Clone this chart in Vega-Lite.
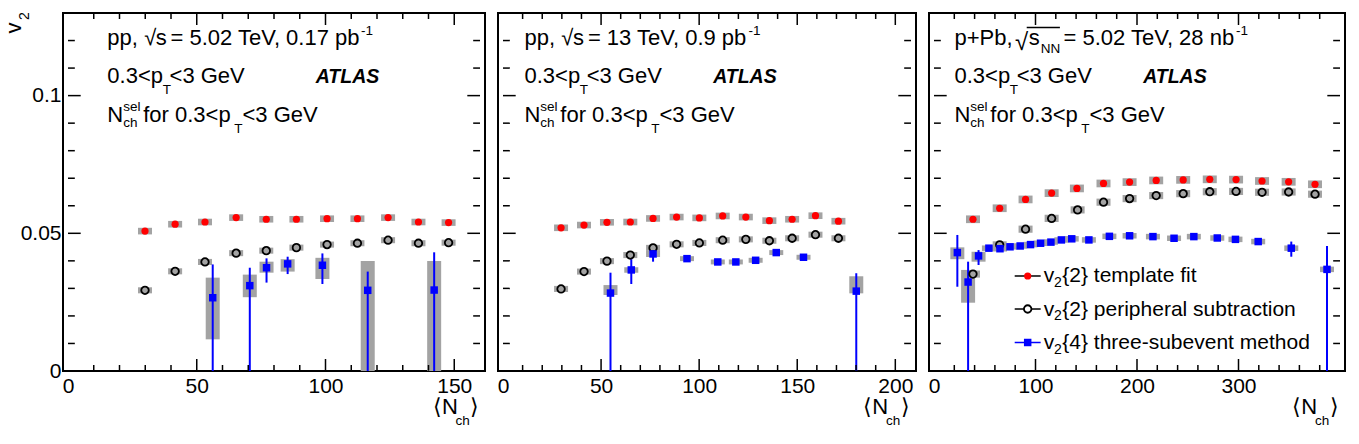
{
  "$schema": "https://vega.github.io/schema/vega-lite/v6.json",
  "autosize": {"type": "none"},
  "padding": {"left": 63, "top": 13, "right": 1296, "bottom": 431},
  "spacing": 13,
  "bounds": "flush",
  "datasets": {
    "pp502": [
      {"s": "tf", "n": 29.9, "v": 0.0508, "lo": 0.0496, "hi": 0.0520},
      {"s": "tf", "n": 41.6, "v": 0.0533, "lo": 0.0521, "hi": 0.0545},
      {"s": "tf", "n": 53.2, "v": 0.0541, "lo": 0.0529, "hi": 0.0553},
      {"s": "tf", "n": 65.3, "v": 0.0557, "lo": 0.0545, "hi": 0.0569},
      {"s": "tf", "n": 77.0, "v": 0.0551, "lo": 0.0539, "hi": 0.0563},
      {"s": "tf", "n": 88.7, "v": 0.0551, "lo": 0.0539, "hi": 0.0563},
      {"s": "tf", "n": 100.6, "v": 0.0553, "lo": 0.0541, "hi": 0.0565},
      {"s": "tf", "n": 112.4, "v": 0.0553, "lo": 0.0541, "hi": 0.0565},
      {"s": "tf", "n": 124.3, "v": 0.0557, "lo": 0.0545, "hi": 0.0569},
      {"s": "tf", "n": 136.1, "v": 0.0541, "lo": 0.0529, "hi": 0.0553},
      {"s": "tf", "n": 147.8, "v": 0.0539, "lo": 0.0527, "hi": 0.0551},
      {"s": "ps", "n": 29.9, "v": 0.0293, "lo": 0.0282, "hi": 0.0304},
      {"s": "ps", "n": 41.6, "v": 0.0362, "lo": 0.0351, "hi": 0.0373},
      {"s": "ps", "n": 53.2, "v": 0.0396, "lo": 0.0385, "hi": 0.0407},
      {"s": "ps", "n": 65.3, "v": 0.0428, "lo": 0.0417, "hi": 0.0439},
      {"s": "ps", "n": 77.0, "v": 0.0437, "lo": 0.0426, "hi": 0.0448},
      {"s": "ps", "n": 88.7, "v": 0.0448, "lo": 0.0437, "hi": 0.0459},
      {"s": "ps", "n": 100.6, "v": 0.0459, "lo": 0.0448, "hi": 0.0470},
      {"s": "ps", "n": 112.4, "v": 0.0464, "lo": 0.0453, "hi": 0.0475},
      {"s": "ps", "n": 124.3, "v": 0.0475, "lo": 0.0464, "hi": 0.0486},
      {"s": "ps", "n": 136.1, "v": 0.0464, "lo": 0.0453, "hi": 0.0475},
      {"s": "ps", "n": 147.8, "v": 0.0466, "lo": 0.0455, "hi": 0.0477},
      {"s": "sub3", "n": 56.2, "v": 0.0266, "slo": -0.02, "shi": 0.0387, "lo": 0.0115, "hi": 0.0339},
      {"s": "sub3", "n": 70.6, "v": 0.0310, "slo": -0.02, "shi": 0.0375, "lo": 0.0268, "hi": 0.0350},
      {"s": "sub3", "n": 77.1, "v": 0.0375, "slo": 0.0321, "shi": 0.0409, "lo": 0.0357, "hi": 0.0397},
      {"s": "sub3", "n": 85.3, "v": 0.0389, "slo": 0.0352, "shi": 0.0415, "lo": 0.0361, "hi": 0.0406},
      {"s": "sub3", "n": 98.8, "v": 0.0384, "slo": 0.0316, "shi": 0.0427, "lo": 0.0334, "hi": 0.0411},
      {"s": "sub3", "n": 116.4, "v": 0.0293, "slo": -0.02, "shi": 0.0361, "lo": -0.01, "hi": 0.0399},
      {"s": "sub3", "n": 142.2, "v": 0.0294, "slo": -0.02, "shi": 0.0431, "lo": -0.01, "hi": 0.0399}
    ],
    "pp13": [
      {"s": "tf", "n": 29.6, "v": 0.0520, "lo": 0.0508, "hi": 0.0532},
      {"s": "tf", "n": 41.3, "v": 0.0530, "lo": 0.0518, "hi": 0.0542},
      {"s": "tf", "n": 53.0, "v": 0.0540, "lo": 0.0528, "hi": 0.0552},
      {"s": "tf", "n": 64.9, "v": 0.0541, "lo": 0.0529, "hi": 0.0553},
      {"s": "tf", "n": 76.5, "v": 0.0554, "lo": 0.0542, "hi": 0.0566},
      {"s": "tf", "n": 88.5, "v": 0.0559, "lo": 0.0547, "hi": 0.0571},
      {"s": "tf", "n": 100.1, "v": 0.0556, "lo": 0.0544, "hi": 0.0568},
      {"s": "tf", "n": 112.0, "v": 0.0563, "lo": 0.0551, "hi": 0.0575},
      {"s": "tf", "n": 123.8, "v": 0.0559, "lo": 0.0547, "hi": 0.0571},
      {"s": "tf", "n": 135.8, "v": 0.0546, "lo": 0.0534, "hi": 0.0558},
      {"s": "tf", "n": 147.4, "v": 0.0551, "lo": 0.0539, "hi": 0.0563},
      {"s": "tf", "n": 159.3, "v": 0.0564, "lo": 0.0552, "hi": 0.0576},
      {"s": "tf", "n": 171.0, "v": 0.0544, "lo": 0.0532, "hi": 0.0556},
      {"s": "ps", "n": 29.6, "v": 0.0298, "lo": 0.0287, "hi": 0.0309},
      {"s": "ps", "n": 41.3, "v": 0.0361, "lo": 0.0350, "hi": 0.0372},
      {"s": "ps", "n": 53.0, "v": 0.0399, "lo": 0.0388, "hi": 0.0410},
      {"s": "ps", "n": 64.9, "v": 0.0421, "lo": 0.0410, "hi": 0.0432},
      {"s": "ps", "n": 76.5, "v": 0.0447, "lo": 0.0436, "hi": 0.0458},
      {"s": "ps", "n": 88.5, "v": 0.0460, "lo": 0.0449, "hi": 0.0471},
      {"s": "ps", "n": 100.1, "v": 0.0465, "lo": 0.0454, "hi": 0.0476},
      {"s": "ps", "n": 112.0, "v": 0.0475, "lo": 0.0464, "hi": 0.0486},
      {"s": "ps", "n": 123.8, "v": 0.0478, "lo": 0.0467, "hi": 0.0489},
      {"s": "ps", "n": 135.8, "v": 0.0473, "lo": 0.0462, "hi": 0.0484},
      {"s": "ps", "n": 147.4, "v": 0.0482, "lo": 0.0471, "hi": 0.0493},
      {"s": "ps", "n": 159.3, "v": 0.0495, "lo": 0.0484, "hi": 0.0506},
      {"s": "ps", "n": 171.0, "v": 0.0482, "lo": 0.0471, "hi": 0.0493},
      {"s": "sub3", "n": 54.8, "v": 0.0283, "slo": -0.02, "shi": 0.0357, "lo": 0.0276, "hi": 0.0312},
      {"s": "sub3", "n": 65.4, "v": 0.0367, "slo": 0.0316, "shi": 0.0406, "lo": 0.0357, "hi": 0.0377},
      {"s": "sub3", "n": 76.5, "v": 0.0425, "slo": 0.0397, "shi": 0.0439, "lo": 0.0414, "hi": 0.0436},
      {"s": "sub3", "n": 93.8, "v": 0.0408, "slo": 0.0402, "shi": 0.0414, "lo": 0.0399, "hi": 0.0417},
      {"s": "sub3", "n": 109.5, "v": 0.0396, "slo": 0.0390, "shi": 0.0402, "lo": 0.0387, "hi": 0.0405},
      {"s": "sub3", "n": 118.7, "v": 0.0396, "slo": 0.0390, "shi": 0.0402, "lo": 0.0387, "hi": 0.0405},
      {"s": "sub3", "n": 128.8, "v": 0.0402, "slo": 0.0396, "shi": 0.0408, "lo": 0.0393, "hi": 0.0411},
      {"s": "sub3", "n": 139.3, "v": 0.0430, "slo": 0.0423, "shi": 0.0437, "lo": 0.0421, "hi": 0.0439},
      {"s": "sub3", "n": 153.2, "v": 0.0413, "slo": 0.0406, "shi": 0.0420, "lo": 0.0404, "hi": 0.0422},
      {"s": "sub3", "n": 180.1, "v": 0.0290, "slo": -0.02, "shi": 0.0355, "lo": 0.0282, "hi": 0.0344}
    ],
    "ppb": [
      {"s": "tf", "n": 38.4, "v": 0.0551, "lo": 0.0537, "hi": 0.0565},
      {"s": "tf", "n": 64.7, "v": 0.0591, "lo": 0.0577, "hi": 0.0605},
      {"s": "tf", "n": 90.2, "v": 0.0623, "lo": 0.0609, "hi": 0.0637},
      {"s": "tf", "n": 115.9, "v": 0.0646, "lo": 0.0632, "hi": 0.0660},
      {"s": "tf", "n": 140.8, "v": 0.0663, "lo": 0.0649, "hi": 0.0677},
      {"s": "tf", "n": 167.0, "v": 0.0681, "lo": 0.0667, "hi": 0.0695},
      {"s": "tf", "n": 192.7, "v": 0.0686, "lo": 0.0672, "hi": 0.0700},
      {"s": "tf", "n": 218.9, "v": 0.0692, "lo": 0.0678, "hi": 0.0706},
      {"s": "tf", "n": 245.5, "v": 0.0694, "lo": 0.0680, "hi": 0.0708},
      {"s": "tf", "n": 271.7, "v": 0.0696, "lo": 0.0682, "hi": 0.0710},
      {"s": "tf", "n": 297.6, "v": 0.0695, "lo": 0.0681, "hi": 0.0709},
      {"s": "tf", "n": 323.2, "v": 0.0690, "lo": 0.0676, "hi": 0.0704},
      {"s": "tf", "n": 349.4, "v": 0.0687, "lo": 0.0673, "hi": 0.0701},
      {"s": "tf", "n": 375.4, "v": 0.0678, "lo": 0.0664, "hi": 0.0692},
      {"s": "ps", "n": 38.4, "v": 0.0352, "lo": 0.0339, "hi": 0.0365},
      {"s": "ps", "n": 64.7, "v": 0.0458, "lo": 0.0445, "hi": 0.0471},
      {"s": "ps", "n": 90.2, "v": 0.0515, "lo": 0.0502, "hi": 0.0528},
      {"s": "ps", "n": 115.9, "v": 0.0554, "lo": 0.0541, "hi": 0.0567},
      {"s": "ps", "n": 141.5, "v": 0.0585, "lo": 0.0572, "hi": 0.0598},
      {"s": "ps", "n": 167.0, "v": 0.0613, "lo": 0.0600, "hi": 0.0626},
      {"s": "ps", "n": 192.7, "v": 0.0626, "lo": 0.0613, "hi": 0.0639},
      {"s": "ps", "n": 218.9, "v": 0.0637, "lo": 0.0624, "hi": 0.0650},
      {"s": "ps", "n": 245.5, "v": 0.0644, "lo": 0.0631, "hi": 0.0657},
      {"s": "ps", "n": 271.7, "v": 0.0651, "lo": 0.0638, "hi": 0.0664},
      {"s": "ps", "n": 297.6, "v": 0.0652, "lo": 0.0639, "hi": 0.0665},
      {"s": "ps", "n": 323.2, "v": 0.0649, "lo": 0.0636, "hi": 0.0662},
      {"s": "ps", "n": 349.4, "v": 0.0650, "lo": 0.0637, "hi": 0.0663},
      {"s": "ps", "n": 375.4, "v": 0.0642, "lo": 0.0629, "hi": 0.0655},
      {"s": "sub3", "n": 23.0, "v": 0.0430, "slo": 0.0306, "shi": 0.0494, "lo": 0.0406, "hi": 0.0449},
      {"s": "sub3", "n": 33.6, "v": 0.0323, "slo": -0.02, "shi": 0.0397, "lo": 0.0248, "hi": 0.0367},
      {"s": "sub3", "n": 43.9, "v": 0.0418, "slo": 0.0385, "shi": 0.0439, "lo": 0.0397, "hi": 0.0433},
      {"s": "sub3", "n": 54.1, "v": 0.0446, "slo": 0.0438, "shi": 0.0454, "lo": 0.0436, "hi": 0.0456},
      {"s": "sub3", "n": 65.0, "v": 0.0444, "slo": 0.0437, "shi": 0.0451, "lo": 0.0434, "hi": 0.0454},
      {"s": "sub3", "n": 74.9, "v": 0.0451, "slo": 0.0445, "shi": 0.0457, "lo": 0.0441, "hi": 0.0461},
      {"s": "sub3", "n": 84.9, "v": 0.0454, "slo": 0.0448, "shi": 0.0460, "lo": 0.0444, "hi": 0.0464},
      {"s": "sub3", "n": 95.1, "v": 0.0459, "slo": 0.0453, "shi": 0.0465, "lo": 0.0449, "hi": 0.0469},
      {"s": "sub3", "n": 105.0, "v": 0.0464, "slo": 0.0458, "shi": 0.0470, "lo": 0.0454, "hi": 0.0474},
      {"s": "sub3", "n": 115.2, "v": 0.0468, "slo": 0.0462, "shi": 0.0474, "lo": 0.0458, "hi": 0.0478},
      {"s": "sub3", "n": 125.5, "v": 0.0476, "slo": 0.0470, "shi": 0.0482, "lo": 0.0466, "hi": 0.0486},
      {"s": "sub3", "n": 135.7, "v": 0.0480, "slo": 0.0474, "shi": 0.0486, "lo": 0.0470, "hi": 0.0490},
      {"s": "sub3", "n": 152.6, "v": 0.0476, "slo": 0.0470, "shi": 0.0482, "lo": 0.0466, "hi": 0.0486},
      {"s": "sub3", "n": 172.8, "v": 0.0489, "slo": 0.0483, "shi": 0.0495, "lo": 0.0479, "hi": 0.0499},
      {"s": "sub3", "n": 192.7, "v": 0.0491, "slo": 0.0485, "shi": 0.0497, "lo": 0.0481, "hi": 0.0501},
      {"s": "sub3", "n": 215.7, "v": 0.0488, "slo": 0.0482, "shi": 0.0494, "lo": 0.0478, "hi": 0.0498},
      {"s": "sub3", "n": 236.5, "v": 0.0482, "slo": 0.0476, "shi": 0.0488, "lo": 0.0472, "hi": 0.0492},
      {"s": "sub3", "n": 256.0, "v": 0.0488, "slo": 0.0482, "shi": 0.0494, "lo": 0.0478, "hi": 0.0498},
      {"s": "sub3", "n": 279.1, "v": 0.0483, "slo": 0.0477, "shi": 0.0489, "lo": 0.0473, "hi": 0.0493},
      {"s": "sub3", "n": 297.0, "v": 0.0478, "slo": 0.0472, "shi": 0.0484, "lo": 0.0468, "hi": 0.0488},
      {"s": "sub3", "n": 319.4, "v": 0.0470, "slo": 0.0464, "shi": 0.0476, "lo": 0.0460, "hi": 0.0480},
      {"s": "sub3", "n": 352.0, "v": 0.0446, "slo": 0.0415, "shi": 0.0470, "lo": 0.0436, "hi": 0.0456},
      {"s": "sub3", "n": 387.2, "v": 0.0369, "slo": -0.02, "shi": 0.0454, "lo": 0.0359, "hi": 0.0379}
    ],
    "yMajor": [{"t": 0.05}, {"t": 0.1}],
    "yMinor": [{"t": 0.01}, {"t": 0.02}, {"t": 0.03}, {"t": 0.04}, {"t": 0.06}, {"t": 0.07}, {"t": 0.08}, {"t": 0.09}, {"t": 0.11}, {"t": 0.12}],
    "x1Major": [{"t": 50}, {"t": 100}, {"t": 150}],
    "x1Minor": [{"t": 10}, {"t": 20}, {"t": 30}, {"t": 40}, {"t": 60}, {"t": 70}, {"t": 80}, {"t": 90}, {"t": 110}, {"t": 120}, {"t": 130}, {"t": 140}],
    "x2Major": [{"t": 50}, {"t": 100}, {"t": 150}, {"t": 200}],
    "x2Minor": [{"t": 10}, {"t": 20}, {"t": 30}, {"t": 40}, {"t": 60}, {"t": 70}, {"t": 80}, {"t": 90}, {"t": 110}, {"t": 120}, {"t": 130}, {"t": 140}, {"t": 160}, {"t": 170}, {"t": 180}, {"t": 190}],
    "x3Major": [{"t": 100}, {"t": 200}, {"t": 300}],
    "x3Minor": [{"t": 20}, {"t": 40}, {"t": 60}, {"t": 80}, {"t": 120}, {"t": 140}, {"t": 160}, {"t": 180}, {"t": 220}, {"t": 240}, {"t": 260}, {"t": 280}, {"t": 320}, {"t": 340}, {"t": 360}, {"t": 380}]
  },
  "hconcat": [
    {
      "width": 422, "height": 358,
      "data": {"name": "pp502"},
      "resolve": {"axis": {"x": "independent", "y": "independent"}},
      "layer": [
        {"data": {"name": "yMajor"}, "mark": {"type": "rule", "strokeWidth": 1.5}, "encoding": {"y": {"field": "t", "type": "quantitative", "scale": {"domain": [0, 0.13], "nice": false, "zero": false}, "axis": null}, "x": {"datum": 0, "type": "quantitative", "scale": {"domain": [0, 160], "nice": false, "zero": false}, "axis": null}, "x2": {"datum": 4.93}}},
        {"data": {"name": "yMajor"}, "mark": {"type": "rule", "strokeWidth": 1.5}, "encoding": {"y": {"field": "t", "type": "quantitative", "scale": {"domain": [0, 0.13], "nice": false, "zero": false}, "axis": null}, "x": {"datum": 160, "type": "quantitative", "scale": {"domain": [0, 160], "nice": false, "zero": false}, "axis": null}, "x2": {"datum": 155.07}}},
        {"data": {"name": "yMinor"}, "mark": {"type": "rule", "strokeWidth": 1.5}, "encoding": {"y": {"field": "t", "type": "quantitative", "scale": {"domain": [0, 0.13], "nice": false, "zero": false}, "axis": null}, "x": {"datum": 0, "type": "quantitative", "scale": {"domain": [0, 160], "nice": false, "zero": false}, "axis": null}, "x2": {"datum": 2.65}}},
        {"data": {"name": "yMinor"}, "mark": {"type": "rule", "strokeWidth": 1.5}, "encoding": {"y": {"field": "t", "type": "quantitative", "scale": {"domain": [0, 0.13], "nice": false, "zero": false}, "axis": null}, "x": {"datum": 160, "type": "quantitative", "scale": {"domain": [0, 160], "nice": false, "zero": false}, "axis": null}, "x2": {"datum": 157.35}}},
        {"mark": {"type": "bar", "width": 14, "color": "#a3a3a3", "clip": true},
         "encoding": {
           "x": {"field": "n", "type": "quantitative", "scale": {"domain": [0, 160], "nice": false, "zero": false}, "axis": {"orient": "bottom", "values": [0, 50, 100, 150], "ticks": false, "format": "d", "labelPadding": 4, "title": null}},
           "y": {"field": "lo", "type": "quantitative", "scale": {"domain": [0, 0.13], "nice": false, "zero": false}, "axis": {"orient": "left", "values": [0, 0.05, 0.1], "ticks": false, "format": "~g", "labelPadding": 2, "title": null}},
           "y2": {"field": "hi"}}},
        {"transform": [{"filter": "datum.s === 'sub3'"}],
         "mark": {"type": "rule", "color": "#0000ff", "strokeWidth": 2, "clip": true},
         "encoding": {
           "x": {"field": "n", "type": "quantitative", "scale": {"domain": [0, 160], "nice": false, "zero": false}, "axis": null},
           "y": {"field": "slo", "type": "quantitative", "scale": {"domain": [0, 0.13], "nice": false, "zero": false}, "axis": null},
           "y2": {"field": "shi"}}},
        {"transform": [{"filter": "datum.s === 'tf'"}],
         "mark": {"type": "point", "shape": "circle", "filled": true, "color": "#ff0000", "size": 52, "opacity": 1},
         "encoding": {"x": {"field": "n", "type": "quantitative", "scale": {"domain": [0, 160], "nice": false, "zero": false}, "axis": null}, "y": {"field": "v", "type": "quantitative", "scale": {"domain": [0, 0.13], "nice": false, "zero": false}, "axis": null}}},
        {"transform": [{"filter": "datum.s === 'ps'"}],
         "mark": {"type": "point", "shape": "circle", "filled": false, "color": "black", "strokeWidth": 1.8, "size": 56, "opacity": 1},
         "encoding": {"x": {"field": "n", "type": "quantitative", "scale": {"domain": [0, 160], "nice": false, "zero": false}, "axis": null}, "y": {"field": "v", "type": "quantitative", "scale": {"domain": [0, 0.13], "nice": false, "zero": false}, "axis": null}}},
        {"transform": [{"filter": "datum.s === 'sub3'"}],
         "mark": {"type": "point", "shape": "square", "filled": true, "color": "#0000ff", "size": 56, "opacity": 1},
         "encoding": {"x": {"field": "n", "type": "quantitative", "scale": {"domain": [0, 160], "nice": false, "zero": false}, "axis": null}, "y": {"field": "v", "type": "quantitative", "scale": {"domain": [0, 0.13], "nice": false, "zero": false}, "axis": null}}},
        {"data": {"name": "x1Major"}, "mark": {"type": "rule", "strokeWidth": 1.5}, "encoding": {"x": {"field": "t", "type": "quantitative", "scale": {"domain": [0, 160], "nice": false, "zero": false}, "axis": null}, "y": {"datum": 0.0001, "type": "quantitative", "scale": {"domain": [0, 0.13], "nice": false, "zero": false}, "axis": null}, "y2": {"datum": 0.00436}}},
        {"data": {"name": "x1Major"}, "mark": {"type": "rule", "strokeWidth": 1.5}, "encoding": {"x": {"field": "t", "type": "quantitative", "scale": {"domain": [0, 160], "nice": false, "zero": false}, "axis": null}, "y": {"datum": 0.1299, "type": "quantitative", "scale": {"domain": [0, 0.13], "nice": false, "zero": false}, "axis": null}, "y2": {"datum": 0.12564}}},
        {"data": {"name": "x1Minor"}, "mark": {"type": "rule", "strokeWidth": 1.5}, "encoding": {"x": {"field": "t", "type": "quantitative", "scale": {"domain": [0, 160], "nice": false, "zero": false}, "axis": null}, "y": {"datum": 0.0001, "type": "quantitative", "scale": {"domain": [0, 0.13], "nice": false, "zero": false}, "axis": null}, "y2": {"datum": 0.00218}}},
        {"data": {"name": "x1Minor"}, "mark": {"type": "rule", "strokeWidth": 1.5}, "encoding": {"x": {"field": "t", "type": "quantitative", "scale": {"domain": [0, 160], "nice": false, "zero": false}, "axis": null}, "y": {"datum": 0.1299, "type": "quantitative", "scale": {"domain": [0, 0.13], "nice": false, "zero": false}, "axis": null}, "y2": {"datum": 0.12782}}},
        {"data": {"values": [{}]}, "mark": {"type": "text", "text": "pp,"}, "encoding": {"x": {"datum": 15.28, "type": "quantitative", "scale": {"domain": [0, 160], "nice": false, "zero": false}, "axis": null}, "y": {"datum": 0.1182, "type": "quantitative", "scale": {"domain": [0, 0.13], "nice": false, "zero": false}, "axis": null}}},
        {"data": {"values": [{}]}, "mark": {"type": "text", "text": "√"}, "encoding": {"x": {"datum": 29.57, "type": "quantitative", "scale": {"domain": [0, 160], "nice": false, "zero": false}, "axis": null}, "y": {"datum": 0.1182, "type": "quantitative", "scale": {"domain": [0, 0.13], "nice": false, "zero": false}, "axis": null}}},
        {"data": {"values": [{}]}, "mark": {"type": "text", "text": "s"}, "encoding": {"x": {"datum": 34.12, "type": "quantitative", "scale": {"domain": [0, 160], "nice": false, "zero": false}, "axis": null}, "y": {"datum": 0.1182, "type": "quantitative", "scale": {"domain": [0, 0.13], "nice": false, "zero": false}, "axis": null}}},
        {"data": {"values": [{}]}, "mark": {"type": "text", "text": "= 5.02 TeV, 0.17 pb"}, "encoding": {"x": {"datum": 39.81, "type": "quantitative", "scale": {"domain": [0, 160], "nice": false, "zero": false}, "axis": null}, "y": {"datum": 0.1182, "type": "quantitative", "scale": {"domain": [0, 0.13], "nice": false, "zero": false}, "axis": null}}},
        {"data": {"values": [{}]}, "mark": {"type": "text", "text": "-1", "fontSize": 13.5}, "encoding": {"x": {"datum": 113.74, "type": "quantitative", "scale": {"domain": [0, 160], "nice": false, "zero": false}, "axis": null}, "y": {"datum": 0.1220, "type": "quantitative", "scale": {"domain": [0, 0.13], "nice": false, "zero": false}, "axis": null}}},
        {"data": {"values": [{}]}, "mark": {"type": "text", "text": "0.3<p"}, "encoding": {"x": {"datum": 15.28, "type": "quantitative", "scale": {"domain": [0, 160], "nice": false, "zero": false}, "axis": null}, "y": {"datum": 0.1046, "type": "quantitative", "scale": {"domain": [0, 0.13], "nice": false, "zero": false}, "axis": null}}},
        {"data": {"values": [{}]}, "mark": {"type": "text", "text": "T", "fontSize": 13.5}, "encoding": {"x": {"datum": 36.78, "type": "quantitative", "scale": {"domain": [0, 160], "nice": false, "zero": false}, "axis": null}, "y": {"datum": 0.1006, "type": "quantitative", "scale": {"domain": [0, 0.13], "nice": false, "zero": false}, "axis": null}}},
        {"data": {"values": [{}]}, "mark": {"type": "text", "text": "<3 GeV"}, "encoding": {"x": {"datum": 39.43, "type": "quantitative", "scale": {"domain": [0, 160], "nice": false, "zero": false}, "axis": null}, "y": {"datum": 0.1046, "type": "quantitative", "scale": {"domain": [0, 0.13], "nice": false, "zero": false}, "axis": null}}},
        {"data": {"values": [{}]}, "mark": {"type": "text", "text": "ATLAS", "fontSize": 19.5, "fontWeight": "bold", "fontStyle": "italic"}, "encoding": {"x": {"datum": 96.19, "type": "quantitative", "scale": {"domain": [0, 160], "nice": false, "zero": false}, "axis": null}, "y": {"datum": 0.1046, "type": "quantitative", "scale": {"domain": [0, 0.13], "nice": false, "zero": false}, "axis": null}}},
        {"data": {"values": [{}]}, "mark": {"type": "text", "text": "N"}, "encoding": {"x": {"datum": 15.28, "type": "quantitative", "scale": {"domain": [0, 160], "nice": false, "zero": false}, "axis": null}, "y": {"datum": 0.0906, "type": "quantitative", "scale": {"domain": [0, 0.13], "nice": false, "zero": false}, "axis": null}}},
        {"data": {"values": [{}]}, "mark": {"type": "text", "text": "sel", "fontSize": 13.5}, "encoding": {"x": {"datum": 21.42, "type": "quantitative", "scale": {"domain": [0, 160], "nice": false, "zero": false}, "axis": null}, "y": {"datum": 0.0945, "type": "quantitative", "scale": {"domain": [0, 0.13], "nice": false, "zero": false}, "axis": null}}},
        {"data": {"values": [{}]}, "mark": {"type": "text", "text": "ch", "fontSize": 13.5}, "encoding": {"x": {"datum": 21.42, "type": "quantitative", "scale": {"domain": [0, 160], "nice": false, "zero": false}, "axis": null}, "y": {"datum": 0.0887, "type": "quantitative", "scale": {"domain": [0, 0.13], "nice": false, "zero": false}, "axis": null}}},
        {"data": {"values": [{}]}, "mark": {"type": "text", "text": "for 0.3<p"}, "encoding": {"x": {"datum": 29.19, "type": "quantitative", "scale": {"domain": [0, 160], "nice": false, "zero": false}, "axis": null}, "y": {"datum": 0.0906, "type": "quantitative", "scale": {"domain": [0, 0.13], "nice": false, "zero": false}, "axis": null}}},
        {"data": {"values": [{}]}, "mark": {"type": "text", "text": "T", "fontSize": 13.5}, "encoding": {"x": {"datum": 64.57, "type": "quantitative", "scale": {"domain": [0, 160], "nice": false, "zero": false}, "axis": null}, "y": {"datum": 0.0866, "type": "quantitative", "scale": {"domain": [0, 0.13], "nice": false, "zero": false}, "axis": null}}},
        {"data": {"values": [{}]}, "mark": {"type": "text", "text": "<3 GeV"}, "encoding": {"x": {"datum": 67.75, "type": "quantitative", "scale": {"domain": [0, 160], "nice": false, "zero": false}, "axis": null}, "y": {"datum": 0.0906, "type": "quantitative", "scale": {"domain": [0, 0.13], "nice": false, "zero": false}, "axis": null}}},
        {"data": {"values": [{}]}, "mark": {"type": "text", "text": "⟨N"}, "encoding": {"x": {"datum": 141.7, "type": "quantitative", "scale": {"domain": [0, 160], "nice": false, "zero": false}, "axis": null}, "y": {"datum": -0.01561, "type": "quantitative", "scale": {"domain": [0, 0.13], "nice": false, "zero": false}, "axis": null}}},
        {"data": {"values": [{}]}, "mark": {"type": "text", "text": "ch", "fontSize": 13.5}, "encoding": {"x": {"datum": 150.5, "type": "quantitative", "scale": {"domain": [0, 160], "nice": false, "zero": false}, "axis": null}, "y": {"datum": -0.01961, "type": "quantitative", "scale": {"domain": [0, 0.13], "nice": false, "zero": false}, "axis": null}}},
        {"data": {"values": [{}]}, "mark": {"type": "text", "text": "⟩"}, "encoding": {"x": {"datum": 156.2, "type": "quantitative", "scale": {"domain": [0, 160], "nice": false, "zero": false}, "axis": null}, "y": {"datum": -0.01561, "type": "quantitative", "scale": {"domain": [0, 0.13], "nice": false, "zero": false}, "axis": null}}},
        {"data": {"values": [{}]}, "mark": {"type": "text", "text": "v", "angle": 270}, "encoding": {"x": {"datum": -18.2, "type": "quantitative", "scale": {"domain": [0, 160], "nice": false, "zero": false}, "axis": null}, "y": {"datum": 0.1226, "type": "quantitative", "scale": {"domain": [0, 0.13], "nice": false, "zero": false}, "axis": null}}},
        {"data": {"values": [{}]}, "mark": {"type": "text", "text": "2", "angle": 270, "fontSize": 14}, "encoding": {"x": {"datum": -15.05, "type": "quantitative", "scale": {"domain": [0, 160], "nice": false, "zero": false}, "axis": null}, "y": {"datum": 0.1275, "type": "quantitative", "scale": {"domain": [0, 0.13], "nice": false, "zero": false}, "axis": null}}}
      ]
    },
    {
      "width": 418, "height": 358,
      "data": {"name": "pp13"},
      "resolve": {"axis": {"x": "independent", "y": "independent"}},
      "layer": [
        {"data": {"name": "yMajor"}, "mark": {"type": "rule", "strokeWidth": 1.5}, "encoding": {"y": {"field": "t", "type": "quantitative", "scale": {"domain": [0, 0.13], "nice": false, "zero": false}, "axis": null}, "x": {"datum": 0, "type": "quantitative", "scale": {"domain": [0, 208], "nice": false, "zero": false}, "axis": null}, "x2": {"datum": 6.47}}},
        {"data": {"name": "yMajor"}, "mark": {"type": "rule", "strokeWidth": 1.5}, "encoding": {"y": {"field": "t", "type": "quantitative", "scale": {"domain": [0, 0.13], "nice": false, "zero": false}, "axis": null}, "x": {"datum": 208, "type": "quantitative", "scale": {"domain": [0, 208], "nice": false, "zero": false}, "axis": null}, "x2": {"datum": 201.53}}},
        {"data": {"name": "yMinor"}, "mark": {"type": "rule", "strokeWidth": 1.5}, "encoding": {"y": {"field": "t", "type": "quantitative", "scale": {"domain": [0, 0.13], "nice": false, "zero": false}, "axis": null}, "x": {"datum": 0, "type": "quantitative", "scale": {"domain": [0, 208], "nice": false, "zero": false}, "axis": null}, "x2": {"datum": 3.48}}},
        {"data": {"name": "yMinor"}, "mark": {"type": "rule", "strokeWidth": 1.5}, "encoding": {"y": {"field": "t", "type": "quantitative", "scale": {"domain": [0, 0.13], "nice": false, "zero": false}, "axis": null}, "x": {"datum": 208, "type": "quantitative", "scale": {"domain": [0, 208], "nice": false, "zero": false}, "axis": null}, "x2": {"datum": 204.52}}},
        {"mark": {"type": "bar", "width": 14, "color": "#a3a3a3", "clip": true},
         "encoding": {
           "x": {"field": "n", "type": "quantitative", "scale": {"domain": [0, 208], "nice": false, "zero": false}, "axis": {"orient": "bottom", "values": [0, 50, 100, 150, 200], "ticks": false, "format": "d", "labelPadding": 4, "title": null}},
           "y": {"field": "lo", "type": "quantitative", "scale": {"domain": [0, 0.13], "nice": false, "zero": false}, "axis": null},
           "y2": {"field": "hi"}}},
        {"transform": [{"filter": "datum.s === 'sub3'"}],
         "mark": {"type": "rule", "color": "#0000ff", "strokeWidth": 2, "clip": true},
         "encoding": {"x": {"field": "n", "type": "quantitative", "scale": {"domain": [0, 208], "nice": false, "zero": false}, "axis": null}, "y": {"field": "slo", "type": "quantitative", "scale": {"domain": [0, 0.13], "nice": false, "zero": false}, "axis": null}, "y2": {"field": "shi"}}},
        {"transform": [{"filter": "datum.s === 'tf'"}],
         "mark": {"type": "point", "shape": "circle", "filled": true, "color": "#ff0000", "size": 52, "opacity": 1},
         "encoding": {"x": {"field": "n", "type": "quantitative", "scale": {"domain": [0, 208], "nice": false, "zero": false}, "axis": null}, "y": {"field": "v", "type": "quantitative", "scale": {"domain": [0, 0.13], "nice": false, "zero": false}, "axis": null}}},
        {"transform": [{"filter": "datum.s === 'ps'"}],
         "mark": {"type": "point", "shape": "circle", "filled": false, "color": "black", "strokeWidth": 1.8, "size": 56, "opacity": 1},
         "encoding": {"x": {"field": "n", "type": "quantitative", "scale": {"domain": [0, 208], "nice": false, "zero": false}, "axis": null}, "y": {"field": "v", "type": "quantitative", "scale": {"domain": [0, 0.13], "nice": false, "zero": false}, "axis": null}}},
        {"transform": [{"filter": "datum.s === 'sub3'"}],
         "mark": {"type": "point", "shape": "square", "filled": true, "color": "#0000ff", "size": 56, "opacity": 1},
         "encoding": {"x": {"field": "n", "type": "quantitative", "scale": {"domain": [0, 208], "nice": false, "zero": false}, "axis": null}, "y": {"field": "v", "type": "quantitative", "scale": {"domain": [0, 0.13], "nice": false, "zero": false}, "axis": null}}},
        {"data": {"name": "x2Major"}, "mark": {"type": "rule", "strokeWidth": 1.5}, "encoding": {"x": {"field": "t", "type": "quantitative", "scale": {"domain": [0, 208], "nice": false, "zero": false}, "axis": null}, "y": {"datum": 0.0001, "type": "quantitative", "scale": {"domain": [0, 0.13], "nice": false, "zero": false}, "axis": null}, "y2": {"datum": 0.00436}}},
        {"data": {"name": "x2Major"}, "mark": {"type": "rule", "strokeWidth": 1.5}, "encoding": {"x": {"field": "t", "type": "quantitative", "scale": {"domain": [0, 208], "nice": false, "zero": false}, "axis": null}, "y": {"datum": 0.1299, "type": "quantitative", "scale": {"domain": [0, 0.13], "nice": false, "zero": false}, "axis": null}, "y2": {"datum": 0.12564}}},
        {"data": {"name": "x2Minor"}, "mark": {"type": "rule", "strokeWidth": 1.5}, "encoding": {"x": {"field": "t", "type": "quantitative", "scale": {"domain": [0, 208], "nice": false, "zero": false}, "axis": null}, "y": {"datum": 0.0001, "type": "quantitative", "scale": {"domain": [0, 0.13], "nice": false, "zero": false}, "axis": null}, "y2": {"datum": 0.00218}}},
        {"data": {"name": "x2Minor"}, "mark": {"type": "rule", "strokeWidth": 1.5}, "encoding": {"x": {"field": "t", "type": "quantitative", "scale": {"domain": [0, 208], "nice": false, "zero": false}, "axis": null}, "y": {"datum": 0.1299, "type": "quantitative", "scale": {"domain": [0, 0.13], "nice": false, "zero": false}, "axis": null}, "y2": {"datum": 0.12782}}},
        {"data": {"values": [{}]}, "mark": {"type": "text", "text": "pp,"}, "encoding": {"x": {"datum": 10.95, "type": "quantitative", "scale": {"domain": [0, 208], "nice": false, "zero": false}, "axis": null}, "y": {"datum": 0.1182, "type": "quantitative", "scale": {"domain": [0, 0.13], "nice": false, "zero": false}, "axis": null}}},
        {"data": {"values": [{}]}, "mark": {"type": "text", "text": "√"}, "encoding": {"x": {"datum": 29.71, "type": "quantitative", "scale": {"domain": [0, 208], "nice": false, "zero": false}, "axis": null}, "y": {"datum": 0.1182, "type": "quantitative", "scale": {"domain": [0, 0.13], "nice": false, "zero": false}, "axis": null}}},
        {"data": {"values": [{}]}, "mark": {"type": "text", "text": "s"}, "encoding": {"x": {"datum": 35.68, "type": "quantitative", "scale": {"domain": [0, 208], "nice": false, "zero": false}, "axis": null}, "y": {"datum": 0.1182, "type": "quantitative", "scale": {"domain": [0, 0.13], "nice": false, "zero": false}, "axis": null}}},
        {"data": {"values": [{}]}, "mark": {"type": "text", "text": "= 13 TeV, 0.9 pb"}, "encoding": {"x": {"datum": 43.29, "type": "quantitative", "scale": {"domain": [0, 208], "nice": false, "zero": false}, "axis": null}, "y": {"datum": 0.1182, "type": "quantitative", "scale": {"domain": [0, 0.13], "nice": false, "zero": false}, "axis": null}}},
        {"data": {"values": [{}]}, "mark": {"type": "text", "text": "-1", "fontSize": 13.5}, "encoding": {"x": {"datum": 125.15, "type": "quantitative", "scale": {"domain": [0, 208], "nice": false, "zero": false}, "axis": null}, "y": {"datum": 0.1220, "type": "quantitative", "scale": {"domain": [0, 0.13], "nice": false, "zero": false}, "axis": null}}},
        {"data": {"values": [{}]}, "mark": {"type": "text", "text": "0.3<p"}, "encoding": {"x": {"datum": 10.95, "type": "quantitative", "scale": {"domain": [0, 208], "nice": false, "zero": false}, "axis": null}, "y": {"datum": 0.1046, "type": "quantitative", "scale": {"domain": [0, 0.13], "nice": false, "zero": false}, "axis": null}}},
        {"data": {"values": [{}]}, "mark": {"type": "text", "text": "T", "fontSize": 13.5}, "encoding": {"x": {"datum": 39.16, "type": "quantitative", "scale": {"domain": [0, 208], "nice": false, "zero": false}, "axis": null}, "y": {"datum": 0.1006, "type": "quantitative", "scale": {"domain": [0, 0.13], "nice": false, "zero": false}, "axis": null}}},
        {"data": {"values": [{}]}, "mark": {"type": "text", "text": "<3 GeV"}, "encoding": {"x": {"datum": 42.64, "type": "quantitative", "scale": {"domain": [0, 208], "nice": false, "zero": false}, "axis": null}, "y": {"datum": 0.1046, "type": "quantitative", "scale": {"domain": [0, 0.13], "nice": false, "zero": false}, "axis": null}}},
        {"data": {"values": [{}]}, "mark": {"type": "text", "text": "ATLAS", "fontSize": 19.5, "fontWeight": "bold", "fontStyle": "italic"}, "encoding": {"x": {"datum": 107.13, "type": "quantitative", "scale": {"domain": [0, 208], "nice": false, "zero": false}, "axis": null}, "y": {"datum": 0.1046, "type": "quantitative", "scale": {"domain": [0, 0.13], "nice": false, "zero": false}, "axis": null}}},
        {"data": {"values": [{}]}, "mark": {"type": "text", "text": "N"}, "encoding": {"x": {"datum": 10.95, "type": "quantitative", "scale": {"domain": [0, 208], "nice": false, "zero": false}, "axis": null}, "y": {"datum": 0.0906, "type": "quantitative", "scale": {"domain": [0, 0.13], "nice": false, "zero": false}, "axis": null}}},
        {"data": {"values": [{}]}, "mark": {"type": "text", "text": "sel", "fontSize": 13.5}, "encoding": {"x": {"datum": 19.01, "type": "quantitative", "scale": {"domain": [0, 208], "nice": false, "zero": false}, "axis": null}, "y": {"datum": 0.0945, "type": "quantitative", "scale": {"domain": [0, 0.13], "nice": false, "zero": false}, "axis": null}}},
        {"data": {"values": [{}]}, "mark": {"type": "text", "text": "ch", "fontSize": 13.5}, "encoding": {"x": {"datum": 19.01, "type": "quantitative", "scale": {"domain": [0, 208], "nice": false, "zero": false}, "axis": null}, "y": {"datum": 0.0887, "type": "quantitative", "scale": {"domain": [0, 0.13], "nice": false, "zero": false}, "axis": null}}},
        {"data": {"values": [{}]}, "mark": {"type": "text", "text": "for 0.3<p"}, "encoding": {"x": {"datum": 29.21, "type": "quantitative", "scale": {"domain": [0, 208], "nice": false, "zero": false}, "axis": null}, "y": {"datum": 0.0906, "type": "quantitative", "scale": {"domain": [0, 0.13], "nice": false, "zero": false}, "axis": null}}},
        {"data": {"values": [{}]}, "mark": {"type": "text", "text": "T", "fontSize": 13.5}, "encoding": {"x": {"datum": 75.64, "type": "quantitative", "scale": {"domain": [0, 208], "nice": false, "zero": false}, "axis": null}, "y": {"datum": 0.0866, "type": "quantitative", "scale": {"domain": [0, 0.13], "nice": false, "zero": false}, "axis": null}}},
        {"data": {"values": [{}]}, "mark": {"type": "text", "text": "<3 GeV"}, "encoding": {"x": {"datum": 79.77, "type": "quantitative", "scale": {"domain": [0, 208], "nice": false, "zero": false}, "axis": null}, "y": {"datum": 0.0906, "type": "quantitative", "scale": {"domain": [0, 0.13], "nice": false, "zero": false}, "axis": null}}},
        {"data": {"values": [{}]}, "mark": {"type": "text", "text": "⟨N"}, "encoding": {"x": {"datum": 183.6, "type": "quantitative", "scale": {"domain": [0, 208], "nice": false, "zero": false}, "axis": null}, "y": {"datum": -0.01561, "type": "quantitative", "scale": {"domain": [0, 0.13], "nice": false, "zero": false}, "axis": null}}},
        {"data": {"values": [{}]}, "mark": {"type": "text", "text": "ch", "fontSize": 13.5}, "encoding": {"x": {"datum": 195.2, "type": "quantitative", "scale": {"domain": [0, 208], "nice": false, "zero": false}, "axis": null}, "y": {"datum": -0.01961, "type": "quantitative", "scale": {"domain": [0, 0.13], "nice": false, "zero": false}, "axis": null}}},
        {"data": {"values": [{}]}, "mark": {"type": "text", "text": "⟩"}, "encoding": {"x": {"datum": 202.7, "type": "quantitative", "scale": {"domain": [0, 208], "nice": false, "zero": false}, "axis": null}, "y": {"datum": -0.01561, "type": "quantitative", "scale": {"domain": [0, 0.13], "nice": false, "zero": false}, "axis": null}}}
      ]
    },
    {
      "width": 416, "height": 358,
      "data": {"name": "ppb"},
      "resolve": {"axis": {"x": "independent", "y": "independent"}},
      "layer": [
        {"data": {"name": "yMajor"}, "mark": {"type": "rule", "strokeWidth": 1.5}, "encoding": {"y": {"field": "t", "type": "quantitative", "scale": {"domain": [0, 0.13], "nice": false, "zero": false}, "axis": null}, "x": {"datum": 0, "type": "quantitative", "scale": {"domain": [0, 400], "nice": false, "zero": false}, "axis": null}, "x2": {"datum": 12.5}}},
        {"data": {"name": "yMajor"}, "mark": {"type": "rule", "strokeWidth": 1.5}, "encoding": {"y": {"field": "t", "type": "quantitative", "scale": {"domain": [0, 0.13], "nice": false, "zero": false}, "axis": null}, "x": {"datum": 400, "type": "quantitative", "scale": {"domain": [0, 400], "nice": false, "zero": false}, "axis": null}, "x2": {"datum": 387.5}}},
        {"data": {"name": "yMinor"}, "mark": {"type": "rule", "strokeWidth": 1.5}, "encoding": {"y": {"field": "t", "type": "quantitative", "scale": {"domain": [0, 0.13], "nice": false, "zero": false}, "axis": null}, "x": {"datum": 0, "type": "quantitative", "scale": {"domain": [0, 400], "nice": false, "zero": false}, "axis": null}, "x2": {"datum": 6.73}}},
        {"data": {"name": "yMinor"}, "mark": {"type": "rule", "strokeWidth": 1.5}, "encoding": {"y": {"field": "t", "type": "quantitative", "scale": {"domain": [0, 0.13], "nice": false, "zero": false}, "axis": null}, "x": {"datum": 400, "type": "quantitative", "scale": {"domain": [0, 400], "nice": false, "zero": false}, "axis": null}, "x2": {"datum": 393.27}}},
        {"mark": {"type": "bar", "width": 14, "color": "#a3a3a3", "clip": true},
         "encoding": {
           "x": {"field": "n", "type": "quantitative", "scale": {"domain": [0, 400], "nice": false, "zero": false}, "axis": {"orient": "bottom", "values": [0, 100, 200, 300], "ticks": false, "format": "d", "labelPadding": 4, "title": null}},
           "y": {"field": "lo", "type": "quantitative", "scale": {"domain": [0, 0.13], "nice": false, "zero": false}, "axis": null},
           "y2": {"field": "hi"}}},
        {"transform": [{"filter": "datum.s === 'sub3'"}],
         "mark": {"type": "rule", "color": "#0000ff", "strokeWidth": 2, "clip": true},
         "encoding": {"x": {"field": "n", "type": "quantitative", "scale": {"domain": [0, 400], "nice": false, "zero": false}, "axis": null}, "y": {"field": "slo", "type": "quantitative", "scale": {"domain": [0, 0.13], "nice": false, "zero": false}, "axis": null}, "y2": {"field": "shi"}}},
        {"transform": [{"filter": "datum.s === 'tf'"}],
         "mark": {"type": "point", "shape": "circle", "filled": true, "color": "#ff0000", "size": 52, "opacity": 1},
         "encoding": {"x": {"field": "n", "type": "quantitative", "scale": {"domain": [0, 400], "nice": false, "zero": false}, "axis": null}, "y": {"field": "v", "type": "quantitative", "scale": {"domain": [0, 0.13], "nice": false, "zero": false}, "axis": null}}},
        {"transform": [{"filter": "datum.s === 'ps'"}],
         "mark": {"type": "point", "shape": "circle", "filled": false, "color": "black", "strokeWidth": 1.8, "size": 56, "opacity": 1},
         "encoding": {"x": {"field": "n", "type": "quantitative", "scale": {"domain": [0, 400], "nice": false, "zero": false}, "axis": null}, "y": {"field": "v", "type": "quantitative", "scale": {"domain": [0, 0.13], "nice": false, "zero": false}, "axis": null}}},
        {"transform": [{"filter": "datum.s === 'sub3'"}],
         "mark": {"type": "point", "shape": "square", "filled": true, "color": "#0000ff", "size": 56, "opacity": 1},
         "encoding": {"x": {"field": "n", "type": "quantitative", "scale": {"domain": [0, 400], "nice": false, "zero": false}, "axis": null}, "y": {"field": "v", "type": "quantitative", "scale": {"domain": [0, 0.13], "nice": false, "zero": false}, "axis": null}}},
        {"data": {"name": "x3Major"}, "mark": {"type": "rule", "strokeWidth": 1.5}, "encoding": {"x": {"field": "t", "type": "quantitative", "scale": {"domain": [0, 400], "nice": false, "zero": false}, "axis": null}, "y": {"datum": 0.0001, "type": "quantitative", "scale": {"domain": [0, 0.13], "nice": false, "zero": false}, "axis": null}, "y2": {"datum": 0.00436}}},
        {"data": {"name": "x3Major"}, "mark": {"type": "rule", "strokeWidth": 1.5}, "encoding": {"x": {"field": "t", "type": "quantitative", "scale": {"domain": [0, 400], "nice": false, "zero": false}, "axis": null}, "y": {"datum": 0.1299, "type": "quantitative", "scale": {"domain": [0, 0.13], "nice": false, "zero": false}, "axis": null}, "y2": {"datum": 0.12564}}},
        {"data": {"name": "x3Minor"}, "mark": {"type": "rule", "strokeWidth": 1.5}, "encoding": {"x": {"field": "t", "type": "quantitative", "scale": {"domain": [0, 400], "nice": false, "zero": false}, "axis": null}, "y": {"datum": 0.0001, "type": "quantitative", "scale": {"domain": [0, 0.13], "nice": false, "zero": false}, "axis": null}, "y2": {"datum": 0.00218}}},
        {"data": {"name": "x3Minor"}, "mark": {"type": "rule", "strokeWidth": 1.5}, "encoding": {"x": {"field": "t", "type": "quantitative", "scale": {"domain": [0, 400], "nice": false, "zero": false}, "axis": null}, "y": {"datum": 0.1299, "type": "quantitative", "scale": {"domain": [0, 0.13], "nice": false, "zero": false}, "axis": null}, "y2": {"datum": 0.12782}}},
        {"data": {"values": [{}]}, "mark": {"type": "text", "text": "p+Pb,"}, "encoding": {"x": {"datum": 20.19, "type": "quantitative", "scale": {"domain": [0, 400], "nice": false, "zero": false}, "axis": null}, "y": {"datum": 0.1182, "type": "quantitative", "scale": {"domain": [0, 0.13], "nice": false, "zero": false}, "axis": null}}},
        {"data": {"values": [{}]}, "mark": {"type": "text", "text": "√", "fontSize": 24}, "encoding": {"x": {"datum": 79.8, "type": "quantitative", "scale": {"domain": [0, 400], "nice": false, "zero": false}, "axis": null}, "y": {"datum": 0.1165, "type": "quantitative", "scale": {"domain": [0, 0.13], "nice": false, "zero": false}, "axis": null}}},
        {"data": {"values": [{}]}, "mark": {"type": "text", "text": "s"}, "encoding": {"x": {"datum": 93.27, "type": "quantitative", "scale": {"domain": [0, 400], "nice": false, "zero": false}, "axis": null}, "y": {"datum": 0.1182, "type": "quantitative", "scale": {"domain": [0, 0.13], "nice": false, "zero": false}, "axis": null}}},
        {"data": {"values": [{}]}, "mark": {"type": "text", "text": "NN", "fontSize": 13.5}, "encoding": {"x": {"datum": 105.29, "type": "quantitative", "scale": {"domain": [0, 400], "nice": false, "zero": false}, "axis": null}, "y": {"datum": 0.1153, "type": "quantitative", "scale": {"domain": [0, 0.13], "nice": false, "zero": false}, "axis": null}}},
        {"data": {"values": [{}]}, "mark": {"type": "rule", "strokeWidth": 1.5}, "encoding": {"x": {"datum": 91.35, "type": "quantitative", "scale": {"domain": [0, 400], "nice": false, "zero": false}, "axis": null}, "x2": {"datum": 124.04}, "y": {"datum": 0.12474, "type": "quantitative", "scale": {"domain": [0, 0.13], "nice": false, "zero": false}, "axis": null}}},
        {"data": {"values": [{}]}, "mark": {"type": "text", "text": "= 5.02 TeV, 28 nb"}, "encoding": {"x": {"datum": 127.6, "type": "quantitative", "scale": {"domain": [0, 400], "nice": false, "zero": false}, "axis": null}, "y": {"datum": 0.1182, "type": "quantitative", "scale": {"domain": [0, 0.13], "nice": false, "zero": false}, "axis": null}}},
        {"data": {"values": [{}]}, "mark": {"type": "text", "text": "-1", "fontSize": 13.5}, "encoding": {"x": {"datum": 297.6, "type": "quantitative", "scale": {"domain": [0, 400], "nice": false, "zero": false}, "axis": null}, "y": {"datum": 0.1220, "type": "quantitative", "scale": {"domain": [0, 0.13], "nice": false, "zero": false}, "axis": null}}},
        {"data": {"values": [{}]}, "mark": {"type": "text", "text": "0.3<p"}, "encoding": {"x": {"datum": 20.19, "type": "quantitative", "scale": {"domain": [0, 400], "nice": false, "zero": false}, "axis": null}, "y": {"datum": 0.1046, "type": "quantitative", "scale": {"domain": [0, 0.13], "nice": false, "zero": false}, "axis": null}}},
        {"data": {"values": [{}]}, "mark": {"type": "text", "text": "T", "fontSize": 13.5}, "encoding": {"x": {"datum": 74.71, "type": "quantitative", "scale": {"domain": [0, 400], "nice": false, "zero": false}, "axis": null}, "y": {"datum": 0.1006, "type": "quantitative", "scale": {"domain": [0, 0.13], "nice": false, "zero": false}, "axis": null}}},
        {"data": {"values": [{}]}, "mark": {"type": "text", "text": "<3 GeV"}, "encoding": {"x": {"datum": 81.44, "type": "quantitative", "scale": {"domain": [0, 400], "nice": false, "zero": false}, "axis": null}, "y": {"datum": 0.1046, "type": "quantitative", "scale": {"domain": [0, 0.13], "nice": false, "zero": false}, "axis": null}}},
        {"data": {"values": [{}]}, "mark": {"type": "text", "text": "ATLAS", "fontSize": 19.5, "fontWeight": "bold", "fontStyle": "italic"}, "encoding": {"x": {"datum": 206.06, "type": "quantitative", "scale": {"domain": [0, 400], "nice": false, "zero": false}, "axis": null}, "y": {"datum": 0.1046, "type": "quantitative", "scale": {"domain": [0, 0.13], "nice": false, "zero": false}, "axis": null}}},
        {"data": {"values": [{}]}, "mark": {"type": "text", "text": "N"}, "encoding": {"x": {"datum": 20.19, "type": "quantitative", "scale": {"domain": [0, 400], "nice": false, "zero": false}, "axis": null}, "y": {"datum": 0.0906, "type": "quantitative", "scale": {"domain": [0, 0.13], "nice": false, "zero": false}, "axis": null}}},
        {"data": {"values": [{}]}, "mark": {"type": "text", "text": "sel", "fontSize": 13.5}, "encoding": {"x": {"datum": 35.77, "type": "quantitative", "scale": {"domain": [0, 400], "nice": false, "zero": false}, "axis": null}, "y": {"datum": 0.0945, "type": "quantitative", "scale": {"domain": [0, 0.13], "nice": false, "zero": false}, "axis": null}}},
        {"data": {"values": [{}]}, "mark": {"type": "text", "text": "ch", "fontSize": 13.5}, "encoding": {"x": {"datum": 35.77, "type": "quantitative", "scale": {"domain": [0, 400], "nice": false, "zero": false}, "axis": null}, "y": {"datum": 0.0887, "type": "quantitative", "scale": {"domain": [0, 0.13], "nice": false, "zero": false}, "axis": null}}},
        {"data": {"values": [{}]}, "mark": {"type": "text", "text": "for 0.3<p"}, "encoding": {"x": {"datum": 55.48, "type": "quantitative", "scale": {"domain": [0, 400], "nice": false, "zero": false}, "axis": null}, "y": {"datum": 0.0906, "type": "quantitative", "scale": {"domain": [0, 0.13], "nice": false, "zero": false}, "axis": null}}},
        {"data": {"values": [{}]}, "mark": {"type": "text", "text": "T", "fontSize": 13.5}, "encoding": {"x": {"datum": 145.19, "type": "quantitative", "scale": {"domain": [0, 400], "nice": false, "zero": false}, "axis": null}, "y": {"datum": 0.0866, "type": "quantitative", "scale": {"domain": [0, 0.13], "nice": false, "zero": false}, "axis": null}}},
        {"data": {"values": [{}]}, "mark": {"type": "text", "text": "<3 GeV"}, "encoding": {"x": {"datum": 153.17, "type": "quantitative", "scale": {"domain": [0, 400], "nice": false, "zero": false}, "axis": null}, "y": {"datum": 0.0906, "type": "quantitative", "scale": {"domain": [0, 0.13], "nice": false, "zero": false}, "axis": null}}},
        {"data": {"values": [{}]}, "mark": {"type": "text", "text": "⟨N"}, "encoding": {"x": {"datum": 352.9, "type": "quantitative", "scale": {"domain": [0, 400], "nice": false, "zero": false}, "axis": null}, "y": {"datum": -0.01561, "type": "quantitative", "scale": {"domain": [0, 0.13], "nice": false, "zero": false}, "axis": null}}},
        {"data": {"values": [{}]}, "mark": {"type": "text", "text": "ch", "fontSize": 13.5}, "encoding": {"x": {"datum": 375.3, "type": "quantitative", "scale": {"domain": [0, 400], "nice": false, "zero": false}, "axis": null}, "y": {"datum": -0.01961, "type": "quantitative", "scale": {"domain": [0, 0.13], "nice": false, "zero": false}, "axis": null}}},
        {"data": {"values": [{}]}, "mark": {"type": "text", "text": "⟩"}, "encoding": {"x": {"datum": 389.7, "type": "quantitative", "scale": {"domain": [0, 400], "nice": false, "zero": false}, "axis": null}, "y": {"datum": -0.01561, "type": "quantitative", "scale": {"domain": [0, 0.13], "nice": false, "zero": false}, "axis": null}}},
        {"data": {"values": [{}]}, "mark": {"type": "rule", "strokeWidth": 1.5, "color": "black"}, "encoding": {"x": {"datum": 79.5, "type": "quantitative", "scale": {"domain": [0, 400], "nice": false, "zero": false}, "axis": null}, "x2": {"datum": 105.1}, "y": {"datum": 0.0345, "type": "quantitative", "scale": {"domain": [0, 0.13], "nice": false, "zero": false}, "axis": null}}},
        {"data": {"values": [{}]}, "mark": {"type": "point", "shape": "circle", "filled": true, "color": "#ff0000", "size": 52, "opacity": 1}, "encoding": {"x": {"datum": 92.3, "type": "quantitative", "scale": {"domain": [0, 400], "nice": false, "zero": false}, "axis": null}, "y": {"datum": 0.0345, "type": "quantitative", "scale": {"domain": [0, 0.13], "nice": false, "zero": false}, "axis": null}}},
        {"data": {"values": [{}]}, "mark": {"type": "text", "text": "v", "fontSize": 21}, "encoding": {"x": {"datum": 108.2, "type": "quantitative", "scale": {"domain": [0, 400], "nice": false, "zero": false}, "axis": null}, "y": {"datum": 0.03214, "type": "quantitative", "scale": {"domain": [0, 0.13], "nice": false, "zero": false}, "axis": null}}},
        {"data": {"values": [{}]}, "mark": {"type": "text", "text": "2", "fontSize": 14}, "encoding": {"x": {"datum": 118.3, "type": "quantitative", "scale": {"domain": [0, 400], "nice": false, "zero": false}, "axis": null}, "y": {"datum": 0.0305, "type": "quantitative", "scale": {"domain": [0, 0.13], "nice": false, "zero": false}, "axis": null}}},
        {"data": {"values": [{}]}, "mark": {"type": "text", "text": "{2} template fit", "fontSize": 21}, "encoding": {"x": {"datum": 126.4, "type": "quantitative", "scale": {"domain": [0, 400], "nice": false, "zero": false}, "axis": null}, "y": {"datum": 0.03214, "type": "quantitative", "scale": {"domain": [0, 0.13], "nice": false, "zero": false}, "axis": null}}},
        {"data": {"values": [{}]}, "mark": {"type": "rule", "strokeWidth": 1.5, "color": "black"}, "encoding": {"x": {"datum": 79.5, "type": "quantitative", "scale": {"domain": [0, 400], "nice": false, "zero": false}, "axis": null}, "x2": {"datum": 105.1}, "y": {"datum": 0.02251, "type": "quantitative", "scale": {"domain": [0, 0.13], "nice": false, "zero": false}, "axis": null}}},
        {"data": {"values": [{}]}, "mark": {"type": "point", "shape": "circle", "filled": true, "color": "white", "size": 56, "opacity": 1}, "encoding": {"x": {"datum": 92.3, "type": "quantitative", "scale": {"domain": [0, 400], "nice": false, "zero": false}, "axis": null}, "y": {"datum": 0.02251, "type": "quantitative", "scale": {"domain": [0, 0.13], "nice": false, "zero": false}, "axis": null}}},
        {"data": {"values": [{}]}, "mark": {"type": "point", "shape": "circle", "filled": false, "color": "black", "strokeWidth": 1.8, "size": 56, "opacity": 1}, "encoding": {"x": {"datum": 92.3, "type": "quantitative", "scale": {"domain": [0, 400], "nice": false, "zero": false}, "axis": null}, "y": {"datum": 0.02251, "type": "quantitative", "scale": {"domain": [0, 0.13], "nice": false, "zero": false}, "axis": null}}},
        {"data": {"values": [{}]}, "mark": {"type": "text", "text": "v", "fontSize": 21}, "encoding": {"x": {"datum": 108.2, "type": "quantitative", "scale": {"domain": [0, 400], "nice": false, "zero": false}, "axis": null}, "y": {"datum": 0.02015, "type": "quantitative", "scale": {"domain": [0, 0.13], "nice": false, "zero": false}, "axis": null}}},
        {"data": {"values": [{}]}, "mark": {"type": "text", "text": "2", "fontSize": 14}, "encoding": {"x": {"datum": 118.3, "type": "quantitative", "scale": {"domain": [0, 400], "nice": false, "zero": false}, "axis": null}, "y": {"datum": 0.01852, "type": "quantitative", "scale": {"domain": [0, 0.13], "nice": false, "zero": false}, "axis": null}}},
        {"data": {"values": [{}]}, "mark": {"type": "text", "text": "{2} peripheral subtraction", "fontSize": 21}, "encoding": {"x": {"datum": 126.4, "type": "quantitative", "scale": {"domain": [0, 400], "nice": false, "zero": false}, "axis": null}, "y": {"datum": 0.02015, "type": "quantitative", "scale": {"domain": [0, 0.13], "nice": false, "zero": false}, "axis": null}}},
        {"data": {"values": [{}]}, "mark": {"type": "rule", "strokeWidth": 1.5, "color": "#0000ff"}, "encoding": {"x": {"datum": 79.5, "type": "quantitative", "scale": {"domain": [0, 400], "nice": false, "zero": false}, "axis": null}, "x2": {"datum": 105.1}, "y": {"datum": 0.01035, "type": "quantitative", "scale": {"domain": [0, 0.13], "nice": false, "zero": false}, "axis": null}}},
        {"data": {"values": [{}]}, "mark": {"type": "point", "shape": "square", "filled": true, "color": "#0000ff", "size": 56, "opacity": 1}, "encoding": {"x": {"datum": 92.3, "type": "quantitative", "scale": {"domain": [0, 400], "nice": false, "zero": false}, "axis": null}, "y": {"datum": 0.01035, "type": "quantitative", "scale": {"domain": [0, 0.13], "nice": false, "zero": false}, "axis": null}}},
        {"data": {"values": [{}]}, "mark": {"type": "text", "text": "v", "fontSize": 21}, "encoding": {"x": {"datum": 108.2, "type": "quantitative", "scale": {"domain": [0, 400], "nice": false, "zero": false}, "axis": null}, "y": {"datum": 0.00799, "type": "quantitative", "scale": {"domain": [0, 0.13], "nice": false, "zero": false}, "axis": null}}},
        {"data": {"values": [{}]}, "mark": {"type": "text", "text": "2", "fontSize": 14}, "encoding": {"x": {"datum": 118.3, "type": "quantitative", "scale": {"domain": [0, 400], "nice": false, "zero": false}, "axis": null}, "y": {"datum": 0.00635, "type": "quantitative", "scale": {"domain": [0, 0.13], "nice": false, "zero": false}, "axis": null}}},
        {"data": {"values": [{}]}, "mark": {"type": "text", "text": "{4} three-subevent method", "fontSize": 21}, "encoding": {"x": {"datum": 126.4, "type": "quantitative", "scale": {"domain": [0, 400], "nice": false, "zero": false}, "axis": null}, "y": {"datum": 0.00799, "type": "quantitative", "scale": {"domain": [0, 0.13], "nice": false, "zero": false}, "axis": null}}}
      ]
    }
  ],
  "config": {
    "view": {"stroke": "black", "strokeWidth": 2},
    "axis": {"grid": false, "domain": false, "labelFont": "Liberation Sans", "labelFontSize": 21, "labelColor": "black", "labelFlush": false, "labelOverlap": false},
    "text": {"font": "Liberation Sans", "fontSize": 22, "align": "left", "baseline": "alphabetic", "color": "black"},
    "rule": {"color": "black"}
  }
}
